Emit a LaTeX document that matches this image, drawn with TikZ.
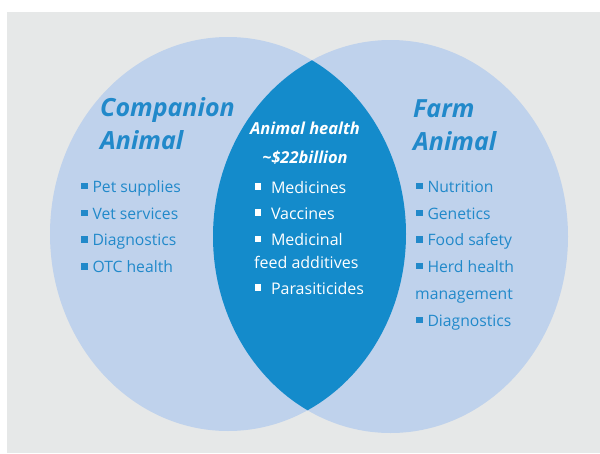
\documentclass[tikz,border=0pt]{standalone}
\usepackage{fontspec}
\setmainfont{Open Sans}
\definecolor{bggray}{HTML}{E6E8E8}
\definecolor{lightblue}{HTML}{BFD2EC}
\definecolor{darkblue}{HTML}{148BCB}
\definecolor{textblue}{HTML}{2189CA}
\newcommand{\sqb}{\rule[3pt]{6.3pt}{6.3pt}\hspace{5pt}}
\newcommand{\sqw}{\rule[3.5pt]{6.3pt}{6.3pt}\hspace{10pt}}
\begin{document}
\begin{tikzpicture}[x=1pt,y=-1pt,
  title/.style={anchor=base west,inner sep=0,text=textblue,font=\fontsize{25}{29}\selectfont\bfseries\itshape},
  item/.style={anchor=base west,inner sep=0,text=textblue,font=\fontsize{15.7}{18}\selectfont},
  citem/.style={anchor=base west,inner sep=0,text=white,font=\fontsize{16}{19}\selectfont},
  ctitle/.style={anchor=base,inner sep=0,text=white,font=\fontsize{16.5}{20}\selectfont\bfseries\itshape}]
\useasboundingbox (0,0) rectangle (600,453);
\fill[white] (0,0) rectangle (600,453);
\fill[bggray] (7,12) rectangle (600,453);
\fill[lightblue] (228,234) ellipse [x radius=178pt, y radius=197pt];
\fill[lightblue] (390.5,236.5) ellipse [x radius=177.5pt, y radius=196.5pt];
\begin{scope}
  \clip (228,234) ellipse [x radius=178pt, y radius=197pt];
  \fill[darkblue] (390.5,236.5) ellipse [x radius=177.5pt, y radius=196.5pt];
\end{scope}
% left
\node[title] (t1) at (100,116) {Companion};
\node[title] (t2) at (100,149) {Animal};
\node[item] (l1) at (81,192) {\sqb Pet supplies};
\node[item] (l2) at (81,219) {\sqb Vet services};
\node[item] (l3) at (81,245.5) {\sqb Diagnostics};
\node[item] (l4) at (81,272.5) {\sqb OTC health};
% right
\node[title] (f1) at (413,117) {Farm};
\node[title] (f2) at (413,150) {Animal};
\node[item] (r1) at (416,192) {\sqb Nutrition};
\node[item] (r2) at (416,219) {\sqb Genetics};
\node[item] (r3) at (416,245.5) {\sqb Food safety};
\node[item] (r4) at (416,272) {\sqb Herd health};
\node[item] (r5) at (415,299) {management};
\node[item] (r6) at (416,326) {\sqb Diagnostics};
% center
\node[ctitle] (c1) at (305,134) {Animal health};
\node[ctitle] (c2) at (305,163) {\textasciitilde\$22billion};
\node[citem] (m1) at (254.5,193) {\sqw Medicines};
\node[citem] (m2) at (254.5,219) {\sqw Vaccines};
\node[citem] (m3) at (254.5,245.5) {\sqw Medicinal};
\node[citem] (m4) at (254,268.5) {feed additives};
\node[citem] (m5) at (254.5,294) {\sqw Parasiticides};
\end{tikzpicture}
\end{document}
